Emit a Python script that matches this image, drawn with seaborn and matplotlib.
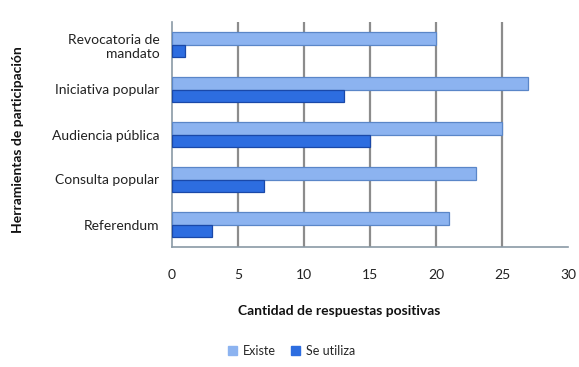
import matplotlib
matplotlib.use("Agg")
import matplotlib.pyplot as plt
from matplotlib.patches import Patch
import seaborn as sns
import pandas as pd

# Datos
herramientas = ["Revocatoria de\nmandato", "Iniciativa popular", "Audiencia pública",
                "Consulta popular", "Referendum"]
existe = [20, 27, 25, 23, 21]
se_utiliza = [1, 13, 15, 7, 3]
series = ["Existe", "Se utiliza"]
xticks = [0, 5, 10, 15, 20, 25, 30]

colores = ["#8cb3f0", "#2d6de0"]
bordes = ["#5a86c8", "#1a48a8"]

df = pd.DataFrame({
    "Herramienta": herramientas * 2,
    "Serie": [series[0]] * len(existe) + [series[1]] * len(se_utiliza),
    "Cantidad": existe + se_utiliza,
})

sns.set_theme(style="white")
plt.rcParams["font.family"] = ["Lato", "DejaVu Sans"]

W, H = 579, 367
fig = plt.figure(figsize=(W / 100, H / 100), dpi=100)
ax = fig.add_axes([172 / W, 1 - 247 / H, 396 / W, 225 / H])

sns.barplot(data=df, y="Herramienta", x="Cantidad", hue="Serie", orient="h",
            palette=colores, saturation=1, width=0.55, ax=ax, legend=False,
            zorder=3, linewidth=0.9)

# bordes más oscuros por serie
for cont, ec in zip(ax.containers, bordes):
    for bar in cont:
        bar.set_edgecolor(ec)

ax.set_xlim(0, 30)
ax.set_ylim(len(herramientas) - 0.5, -0.5)
ax.set_xticks(xticks)
ax.set_xticklabels([str(t) for t in xticks], fontsize=10, color="#222222")
ax.tick_params(axis="x", direction="out", length=4, width=1, color="#8a9aa6", pad=12)

ax.set_yticks(range(len(herramientas)))
ax.set_yticklabels(herramientas, fontsize=10, color="#222222", ha="right",
                   linespacing=1.2)
ax.tick_params(axis="y", length=0, pad=9)
ax.set_yticks([i - 0.5 for i in range(len(herramientas) + 1)], minor=True)
ax.tick_params(axis="y", which="minor", direction="out", length=5, width=1,
               color="#8a9aa6")

# líneas de cuadrícula verticales
for t in xticks[1:-1]:
    ax.axvline(t, color="#8c8c8c", lw=1.6, zorder=1)

for s in ["top", "right"]:
    ax.spines[s].set_visible(False)
for s in ["left", "bottom"]:
    ax.spines[s].set_color("#8a9aa6")
    ax.spines[s].set_linewidth(1.2)

ax.set_xlabel("")
ax.set_ylabel("")

fig.text(339 / W, 1 - 311 / H, "Cantidad de respuestas positivas",
         ha="center", va="center", fontsize=10, fontweight="bold", color="#111111")
fig.text(18 / W, 1 - 140 / H, "Herramientas de participación", rotation=90,
         ha="center", va="center", fontsize=10, fontweight="bold", color="#111111")

handles = [Patch(facecolor=c, edgecolor=c) for c in colores]
fig.legend(handles, series, loc="center", bbox_to_anchor=(292 / W, 1 - 351 / H),
           ncol=2, frameon=False, fontsize=9, handlelength=0.7, handleheight=0.7,
           handletextpad=0.5, columnspacing=1.2)

fig.savefig("out.png", dpi=100)
